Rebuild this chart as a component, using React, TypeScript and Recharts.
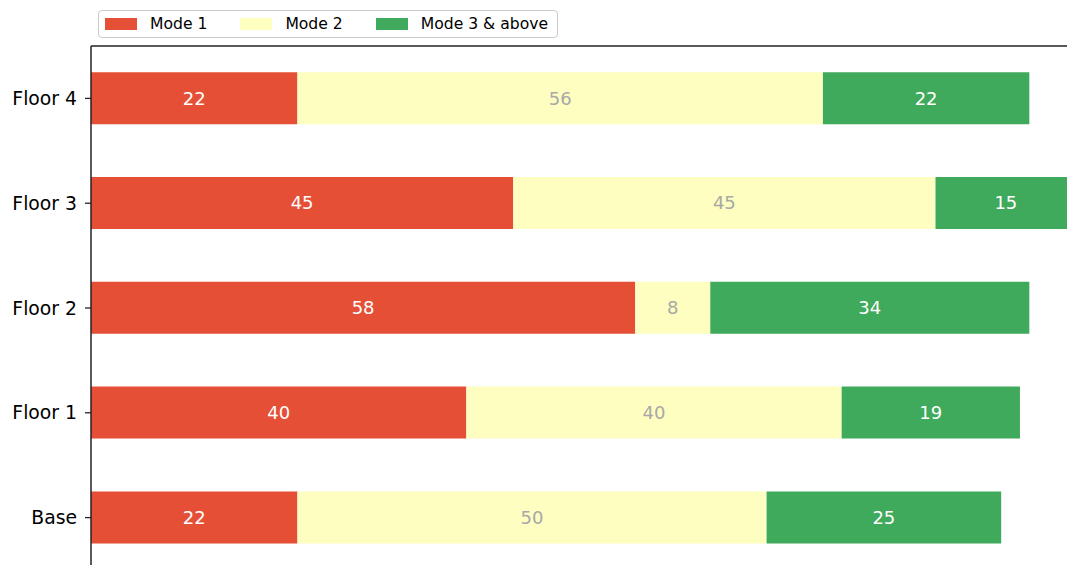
import React from 'react';
import { BarChart, Bar, XAxis, YAxis, Legend, LabelList } from 'recharts';

const floors = ['Floor 4', 'Floor 3', 'Floor 2', 'Floor 1', 'Base'];
const mode1 = [22, 45, 58, 40, 22];
const mode2 = [56, 45, 8, 40, 50];
const mode3 = [22, 15, 34, 19, 25];

const seriesNames = ['Mode 1', 'Mode 2', 'Mode 3 & above'];
const colors = ['#e54f35', '#fefec0', '#3faa5b'];

const FONT = 'DejaVu Sans';

const data = floors.map((floor, i) => ({
  floor,
  m1: mode1[i],
  m2: mode2[i],
  m3: mode3[i],
}));

const LegendBox = () => (
  <div
    style={{
      display: 'flex',
      alignItems: 'center',
      height: 26,
      border: '1px solid #cccccc',
      borderRadius: 4,
      background: '#fff',
      paddingLeft: 6,
      paddingRight: 9,
      fontFamily: FONT,
      fontSize: 15.6,
      color: '#000',
      boxSizing: 'content-box',
      width: 'fit-content',
    }}
  >
    {seriesNames.map((name, i) => (
      <div key={name} style={{ display: 'flex', alignItems: 'center', marginRight: i < 2 ? 33 : 0 }}>
        <span style={{ display: 'inline-block', width: 32, height: 12, background: colors[i], marginRight: 13 }} />
        <span>{name}</span>
      </div>
    ))}
  </div>
);

// plot runs past the right edge of the picture (Floor 3 is cut off), so the chart is wider than the frame
const App: React.FC = () => {
  return (
    <div style={{ position: 'fixed', left: 0, top: 0, width: 1067, height: 565, overflow: 'hidden', background: '#fff' }}>
      <BarChart
        width={1080}
        height={570}
        data={data}
        layout="vertical"
        margin={{ top: 45, right: 0, bottom: 0, left: 0 }}
        barCategoryGap="25%"
      >
        <XAxis
          type="number"
          orientation="top"
          domain={[0, 105.4]}
          allowDataOverflow
          tick={false}
          tickLine={false}
          height={1}
          axisLine={{ stroke: '#222', strokeWidth: 1.5 }}
        />
        <YAxis
          type="category"
          dataKey="floor"
          width={91}
          tickSize={6}
          tickMargin={8}
          tickLine={{ stroke: '#222', strokeWidth: 1.3 }}
          axisLine={{ stroke: '#222', strokeWidth: 1.5 }}
          tick={{ fill: '#000', fontSize: 18.8, fontFamily: FONT }}
        />
        <Legend
          verticalAlign="middle"
          align="center"
          content={<LegendBox />}
          wrapperStyle={{ top: 10, left: 98, width: 480 }}
        />
        <Bar dataKey="m1" stackId="a" fill={colors[0]} isAnimationActive={false}>
          <LabelList dataKey="m1" position="center" fill="#fff" fontSize={18} fontFamily={FONT} />
        </Bar>
        <Bar dataKey="m2" stackId="a" fill={colors[1]} isAnimationActive={false}>
          <LabelList dataKey="m2" position="center" fill="#a8a8a8" fontSize={18} fontFamily={FONT} />
        </Bar>
        <Bar dataKey="m3" stackId="a" fill={colors[2]} isAnimationActive={false}>
          <LabelList dataKey="m3" position="center" fill="#fff" fontSize={18} fontFamily={FONT} />
        </Bar>
      </BarChart>
    </div>
  );
};

export default App;
